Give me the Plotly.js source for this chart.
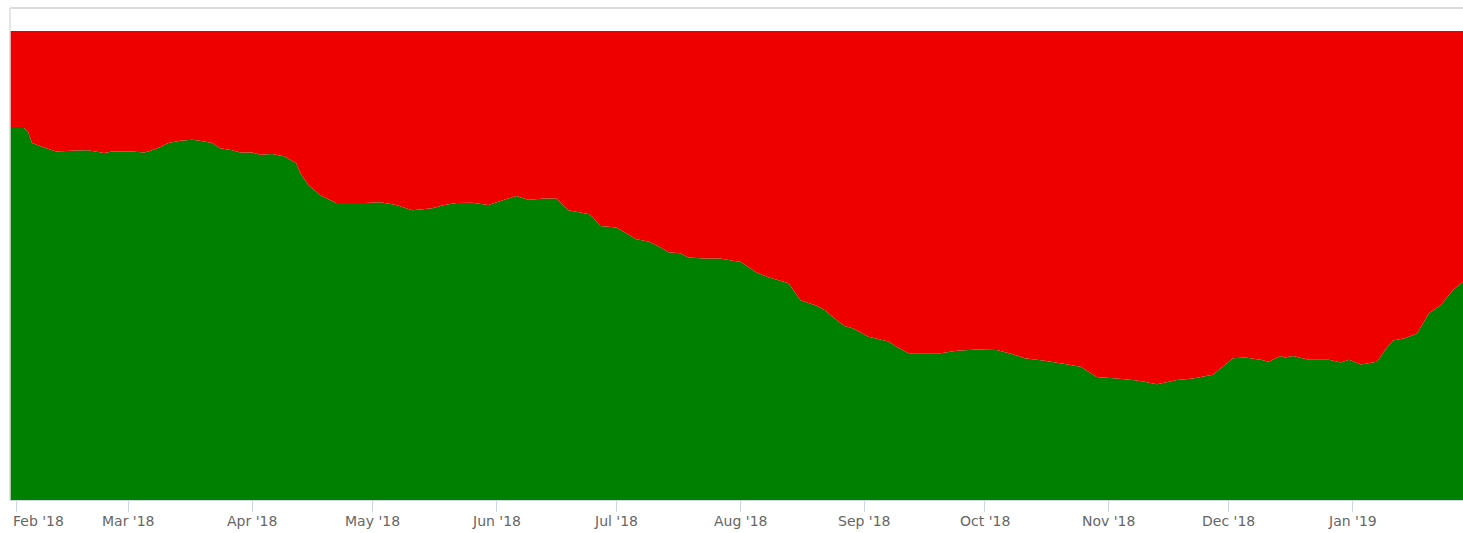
<!DOCTYPE html>
<html>
<head>
<meta charset="utf-8">
<script src="https://cdn.plot.ly/plotly-3.0.1.min.js"></script>
<style>
html, body { margin: 0; padding: 0; background: #ffffff; }
#chart { width: 1463px; height: 533px; }
</style>
</head>
<body>
<div id="chart"></div>
<script>
// Dates of the readings
const dates = [
  '2018-01-30','2018-02-03','2018-02-04','2018-02-05','2018-02-07','2018-02-11','2018-02-16','2018-02-19',
  '2018-02-23','2018-02-25','2018-03-02','2018-03-05','2018-03-06','2018-03-09','2018-03-11','2018-03-14',
  '2018-03-17','2018-03-19','2018-03-22','2018-03-24','2018-03-27','2018-03-29','2018-04-01','2018-04-03',
  '2018-04-06','2018-04-09','2018-04-12','2018-04-13','2018-04-15','2018-04-18','2018-04-22','2018-04-29',
  '2018-05-03','2018-05-07','2018-05-11','2018-05-16','2018-05-19','2018-05-22','2018-05-26','2018-05-30',
  '2018-06-03','2018-06-06','2018-06-09','2018-06-13','2018-06-16','2018-06-19','2018-06-24','2018-06-25',
  '2018-06-27','2018-07-01','2018-07-06','2018-07-09','2018-07-12','2018-07-14','2018-07-17','2018-07-19',
  '2018-07-23','2018-07-27','2018-07-30','2018-08-01','2018-08-05','2018-08-08','2018-08-13','2018-08-16',
  '2018-08-20','2018-08-22','2018-08-25','2018-08-27','2018-08-29','2018-09-02','2018-09-07','2018-09-09',
  '2018-09-12','2018-09-20','2018-09-24','2018-09-29','2018-10-04','2018-10-08','2018-10-11','2018-10-16',
  '2018-10-21','2018-10-25','2018-10-29','2018-11-03','2018-11-07','2018-11-10','2018-11-13','2018-11-16',
  '2018-11-18','2018-11-22','2018-11-27','2018-11-29','2018-12-02','2018-12-05','2018-12-09','2018-12-11',
  '2018-12-14','2018-12-15','2018-12-17','2018-12-21','2018-12-26','2018-12-29','2018-12-31','2019-01-03',
  '2019-01-07','2019-01-09','2019-01-11','2019-01-14','2019-01-17','2019-01-20','2019-01-23','2019-01-26',
  '2019-01-28','2019-01-29'
];

// Green share (%)
const greenShare = [
  79.3,79.3,78.5,76.1,75.5,74.3,74.5,74.6,
  74.0,74.3,74.3,74.1,74.3,75.2,76.1,76.6,
  76.8,76.6,76.1,75.0,74.6,74.1,74.1,73.6,
  73.8,73.3,71.8,69.7,67.2,65.0,63.3,63.3,
  63.5,62.9,61.8,62.2,62.9,63.3,63.4,62.9,
  64.0,64.8,64.0,64.3,64.3,61.8,61.0,60.4,
  58.4,58.1,55.6,55.1,53.9,52.8,52.6,51.7,
  51.5,51.5,51.0,50.8,48.5,47.5,46.2,42.6,
  41.4,40.5,38.4,37.1,36.6,34.8,33.8,32.7,
  31.3,31.3,31.8,32.1,32.0,31.1,30.2,29.7,
  29.0,28.4,26.2,25.9,25.6,25.2,24.7,25.2,
  25.6,25.9,26.7,28.1,30.2,30.4,29.9,29.5,
  30.7,30.4,30.7,29.9,29.9,29.3,29.9,28.9,
  29.5,32.0,34.0,34.5,35.5,39.8,41.6,44.8,
  46.2,46.5
];

// Red share (%)
const redShare = [
  20.7,20.7,21.5,23.9,24.5,25.7,25.5,25.4,
  26.0,25.7,25.7,25.9,25.7,24.8,23.9,23.4,
  23.2,23.4,23.9,25.0,25.4,25.9,25.9,26.4,
  26.2,26.7,28.2,30.3,32.8,35.0,36.7,36.7,
  36.5,37.1,38.2,37.8,37.1,36.7,36.6,37.1,
  36.0,35.2,36.0,35.7,35.7,38.2,39.0,39.6,
  41.6,41.9,44.4,44.9,46.1,47.2,47.4,48.3,
  48.5,48.5,49.0,49.2,51.5,52.5,53.8,57.4,
  58.6,59.5,61.6,62.9,63.4,65.2,66.2,67.3,
  68.7,68.7,68.2,67.9,68.0,68.9,69.8,70.3,
  71.0,71.6,73.8,74.1,74.4,74.8,75.3,74.8,
  74.4,74.1,73.3,71.9,69.8,69.6,70.1,70.5,
  69.3,69.6,69.3,70.1,70.1,70.7,70.1,71.1,
  70.5,68.0,66.0,65.5,64.5,60.2,58.4,55.2,
  53.8,53.5
];

// Axis ticks
const tickDates = ['2018-02-01','2018-03-01','2018-04-01','2018-05-01','2018-06-01','2018-07-01',
                   '2018-08-01','2018-09-01','2018-10-01','2018-11-01','2018-12-01','2019-01-01'];
const tickLabels = ["Feb '18","Mar '18","Apr '18","May '18","Jun '18","Jul '18",
                    "Aug '18","Sep '18","Oct '18","Nov '18","Dec '18","Jan '19"];

const traces = [
  {
    x: dates, y: greenShare, type: 'scatter', mode: 'none',
    stackgroup: 'share', fillcolor: '#008000', line: {width: 0},
    name: 'Green', hoverinfo: 'x+y'
  },
  {
    x: dates, y: redShare, type: 'scatter', mode: 'none',
    stackgroup: 'share', fillcolor: '#ee0000', line: {width: 0},
    name: 'Red', hoverinfo: 'x+y'
  }
];

const labelFont = {family: 'DejaVu Sans, Verdana, sans-serif', size: 14, color: '#666666'};

const annotations = tickDates.map((d, i) => ({
  x: d, xref: 'x', y: 0, yref: 'paper',
  text: tickLabels[i], showarrow: false,
  xanchor: i === 0 ? 'left' : 'center',
  xshift: i === 0 ? -5 : 0,
  yanchor: 'middle', yshift: -21,
  font: labelFont
}));

const layout = {
  width: 1463, height: 533,
  margin: {l: 10, r: 0, t: 31, b: 33, pad: 0},
  paper_bgcolor: '#ffffff', plot_bgcolor: '#ffffff',
  showlegend: false,
  xaxis: {
    type: 'date',
    range: ['2018-01-30 12:00', '2019-01-28 12:00'],
    tickmode: 'array', tickvals: tickDates, showticklabels: false,
    ticks: 'outside', ticklen: 11, tickwidth: 1, tickcolor: '#ccd6eb',
    showgrid: false, zeroline: false,
    showline: true, linecolor: '#ccd6eb', linewidth: 1,
    fixedrange: true
  },
  yaxis: {
    range: [0, 100], visible: false, fixedrange: true
  },
  annotations: annotations,
  shapes: [
    {type: 'line', xref: 'paper', yref: 'paper', x0: 0, x1: 1, y0: 1.049, y1: 1.049,
     line: {color: '#dcdcdc', width: 2}, layer: 'above'},
    {type: 'line', xref: 'paper', yref: 'paper', x0: 0, x1: 0, y0: 0, y1: 1.049,
     line: {color: '#dcdcdc', width: 1.5}, layer: 'above'}
  ]
};

Plotly.newPlot('chart', traces, layout, {displayModeBar: false, staticPlot: true});
</script>
</body>
</html>
